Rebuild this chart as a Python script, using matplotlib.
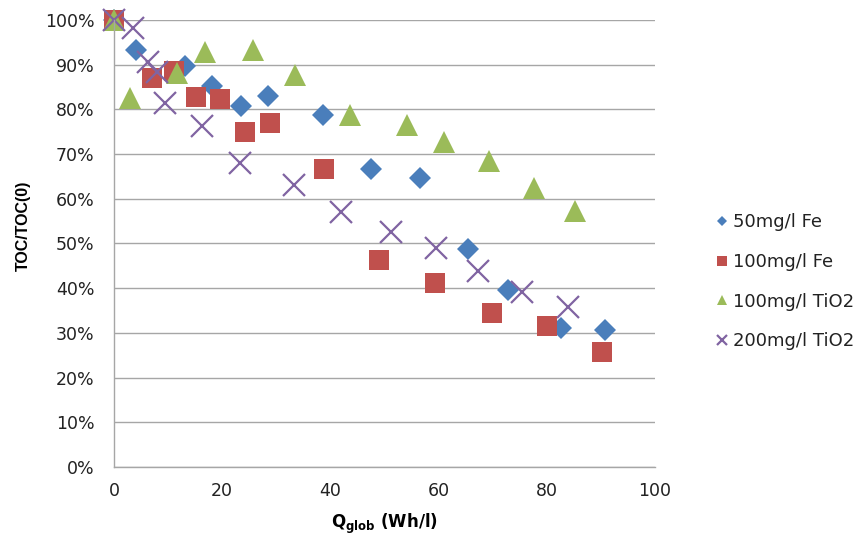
import matplotlib.pyplot as plt
from matplotlib.ticker import FuncFormatter

plt.rcParams['font.family'] = ['DejaVu Sans']
plt.rcParams['mathtext.fontset'] = 'custom'
plt.rcParams['mathtext.rm'] = 'DejaVu Sans'
plt.rcParams['mathtext.bf'] = 'DejaVu Sans:bold'

# 50mg/l Fe
fe50_x = [0, 4.1, 13.2, 18.2, 23.4, 28.4, 38.6, 47.5, 56.6, 65.5, 72.9, 82.7, 90.7]
fe50_y = [100, 93.3, 89.7, 85.2, 80.8, 83.0, 78.7, 66.7, 64.7, 48.8, 39.6, 31.1, 30.6]

# 100mg/l Fe
fe100_x = [0, 7.1, 11.1, 15.2, 19.5, 24.3, 28.8, 38.8, 49.0, 59.4, 69.9, 80.1, 90.2]
fe100_y = [100, 87.0, 88.6, 82.8, 82.3, 74.9, 77.0, 66.7, 46.4, 41.2, 34.5, 31.5, 25.7]

# 100mg/l TiO2
ti100_x = [0, 3.0, 11.7, 16.9, 25.6, 33.4, 43.6, 54.2, 61.0, 69.4, 77.6, 85.3]
ti100_y = [100, 82.6, 88.1, 92.8, 93.3, 87.7, 78.7, 76.5, 72.7, 68.5, 62.4, 57.3]

# 200mg/l TiO2
ti200_x = [0, 3.5, 6.3, 8.0, 9.5, 16.3, 23.2, 33.2, 42.0, 51.2, 59.6, 67.2, 75.5, 83.9]
ti200_y = [100, 98.2, 90.6, 88.4, 81.4, 76.3, 68.0, 63.1, 57.0, 52.6, 49.0, 43.8, 39.2, 35.8]

fig = plt.figure(figsize=(8.6, 5.4), dpi=100)
ax = fig.add_axes([0.1326, 0.1352, 0.629, 0.828])

ax.plot(fe50_x, fe50_y, 'D', color='#4A7EBB', markersize=11.2,
        markeredgewidth=0, label='50mg/l Fe')
ax.plot(fe100_x, fe100_y, 's', color='#C0504D', markersize=15,
        markeredgewidth=0, label='100mg/l Fe')
ax.plot(ti100_x, ti100_y, '^', color='#9BBB59', markersize=16,
        markeredgewidth=0, label='100mg/l TiO2')
ax.plot(ti200_x, ti200_y, 'x', color='#8064A2', markersize=16,
        markeredgewidth=1.6, label='200mg/l TiO2')

ax.set_xlim(0, 100)
ax.set_ylim(0, 100)
ax.set_xticks(range(0, 101, 20))
ax.set_yticks(range(0, 101, 10))
ax.yaxis.set_major_formatter(FuncFormatter(lambda v, p: f'{v:.0f}%'))
ax.tick_params(length=0, labelsize=12.5, colors='#222222')
ax.tick_params(axis='y', pad=14)
ax.tick_params(axis='x', pad=11)
ax.grid(axis='y', color='#A6A6A6', linewidth=1)
ax.set_axisbelow(True)
for name, spine in ax.spines.items():
    if name in ('top', 'right'):
        spine.set_visible(False)
    else:
        spine.set_color('#A6A6A6')
        spine.set_linewidth(1)
for m in ax.lines:
    m.set_clip_on(False)

ax.set_ylabel('TOC/TOC(0)', fontsize=11.5, fontweight='bold',
              family='Liberation Sans', va='center')
ax.yaxis.set_label_coords(-0.168, 0.539)
ax.set_xlabel(r'$\mathbf{Q}_{\mathbf{glob}}$ (Wh/l)', fontsize=12,
              fontweight='bold', va='center')
ax.xaxis.set_label_coords(0.5, -0.128)

leg = fig.legend(loc='center left', bbox_to_anchor=(0.814, 0.478),
                 frameon=False, fontsize=13, markerscale=0.45,
                 handlelength=0.6, handletextpad=0.3, labelspacing=1.2)
for t in leg.get_texts():
    t.set_color('#222222')

plt.savefig('out.png', dpi=100)
plt.close()
